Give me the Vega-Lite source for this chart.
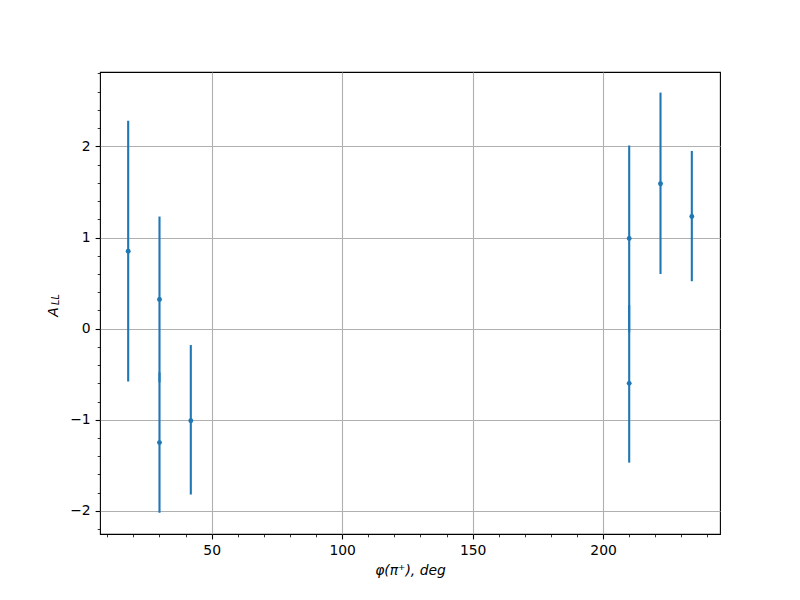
{
  "$schema": "https://vega.github.io/schema/vega-lite/v6.json",
  "width": 620,
  "height": 462,
  "autosize": {"type": "none"},
  "padding": {"left": 100, "top": 72, "right": 80, "bottom": 66},
  "background": "white",
  "config": {
    "view": {"stroke": "black", "strokeWidth": 1.1},
    "axis": {
      "labelFont": "DejaVu Sans",
      "labelFontSize": 13.9,
      "labelColor": "black",
      "titleFont": "DejaVu Sans",
      "titleFontSize": 13.9,
      "titleFontWeight": "normal",
      "titleColor": "black",
      "tickColor": "black",
      "tickWidth": 1.1,
      "tickSize": 4.9,
      "labelPadding": 4.9,
      "domain": false,
      "gridColor": "#b0b0b0",
      "gridWidth": 1.1,
      "gridOpacity": 1
    }
  },
  "data": {
    "values": [
      {"phi": 18, "A": 0.85, "lo": -0.58, "hi": 2.28},
      {"phi": 30, "A": 0.32, "lo": -0.59, "hi": 1.23},
      {"phi": 30, "A": -1.25, "lo": -2.02, "hi": -0.48},
      {"phi": 42, "A": -1.01, "lo": -1.82, "hi": -0.18},
      {"phi": 210, "A": 0.99, "lo": -0.04, "hi": 2.01},
      {"phi": 210, "A": -0.6, "lo": -1.47, "hi": 0.26},
      {"phi": 222, "A": 1.59, "lo": 0.6, "hi": 2.59},
      {"phi": 234, "A": 1.23, "lo": 0.52, "hi": 1.95}
    ]
  },
  "layer": [
    {
      "mark": {"type": "rule", "color": "#1f77b4", "strokeWidth": 2.1},
      "encoding": {
        "x": {
          "field": "phi", "type": "quantitative",
          "scale": {"domain": [7.2, 244.8], "nice": false, "zero": false},
          "axis": {
            "values": [50, 100, 150, 200],
            "grid": true,
            "title": "φ(π⁺), deg",
            "titleFontStyle": "italic",
            "titlePadding": 6,
            "orient": "bottom"
          }
        },
        "y": {
          "field": "lo", "type": "quantitative",
          "scale": {"domain": [-2.253, 2.816], "nice": false, "zero": false},
          "axis": {
            "values": [-2, -1, 0, 1, 2],
            "grid": true,
            "title": "A",
            "titleFontStyle": "italic",
            "titleX": -43,
            "titleY": 239.5,
            "titleAngle": 270,
            "titleAlign": "center",
            "titleBaseline": "alphabetic",
            "orient": "left",
            "labelExpr": "replace(datum.label, '-', '−')"
          }
        },
        "y2": {"field": "hi"}
      }
    },
    {
      "mark": {"type": "circle", "color": "#1f77b4", "opacity": 1, "size": 24},
      "encoding": {
        "x": {
          "field": "phi", "type": "quantitative",
          "axis": {
            "values": [10, 20, 30, 40, 60, 70, 80, 90, 110, 120, 130, 140, 160, 170, 180, 190, 210, 220, 230, 240],
            "labels": false, "grid": false, "title": null, "tickSize": 2.8, "tickWidth": 0.8, "orient": "bottom"
          }
        },
        "y": {
          "field": "A", "type": "quantitative",
          "axis": {
            "values": [-2.2, -1.8, -1.6, -1.4, -1.2, -0.8, -0.6, -0.4, -0.2, 0.2, 0.4, 0.6, 0.8, 1.2, 1.4, 1.6, 1.8, 2.2, 2.4, 2.6, 2.8],
            "labels": false, "grid": false,
            "title": "LL",
            "titleFontStyle": "italic",
            "titleFontSize": 9.7,
            "titleX": -41.5,
            "titleY": 227,
            "titleAngle": 270,
            "titleAlign": "center",
            "titleBaseline": "alphabetic",
            "tickSize": 2.8, "tickWidth": 0.8, "orient": "left"
          }
        }
      }
    }
  ],
  "resolve": {"axis": {"x": "independent", "y": "independent"}}
}
